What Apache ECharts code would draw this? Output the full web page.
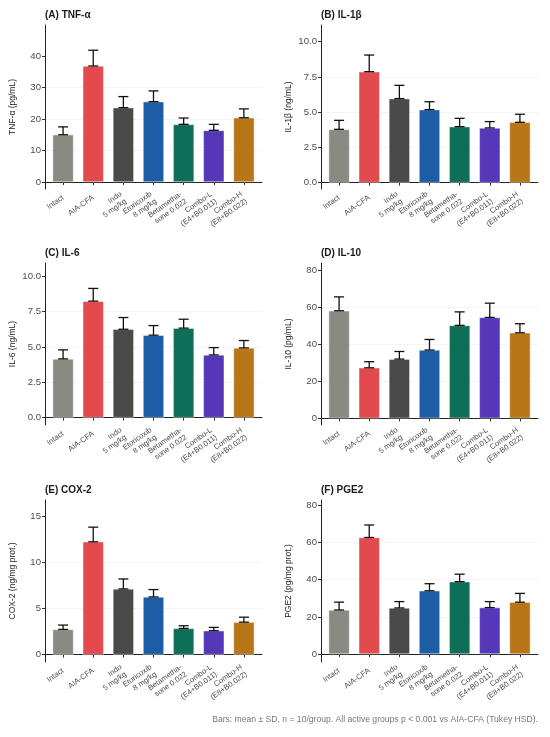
<!DOCTYPE html>
<html lang="en" style="height: 100%">
<head>
  <meta charset="utf-8">
</head>
<body style="height: 100%; margin: 0; background: #fff">
  <div id="container" style="width: 550px; height: 737px"></div>
  <script type="text/javascript" src="https://fastly.jsdelivr.net/npm/echarts@6/dist/echarts.min.js"></script>
  <script type="text/javascript">
    // groups and colours
    var groups = ['Intact', 'AIA-CFA', 'Indo\n5 mg/kg', 'Etoricoxib\n8 mg/kg', 'Betametha-\nsone 0.022', 'Combo-L\n(E4+B0.011)', 'Combo-H\n(E8+B0.022)'];
    var groupColors = ['#8a8a82', '#e34a4e', '#4a4a4a', '#1c5da6', '#0f6e57', '#5538b8', '#b87619'];

    // means and SDs
    var tnfMean = [15.0, 36.8, 23.6, 25.5, 18.3, 16.4, 20.4];
    var tnfSd = [2.5, 5.0, 3.5, 3.4, 2.0, 1.9, 2.8];
    var il1bMean = [3.78, 7.87, 5.96, 5.18, 3.97, 3.88, 4.28];
    var il1bSd = [0.64, 1.18, 0.94, 0.56, 0.59, 0.45, 0.57];
    var il6Mean = [4.16, 8.25, 6.26, 5.84, 6.34, 4.44, 4.94];
    var il6Sd = [0.64, 0.90, 0.83, 0.68, 0.63, 0.52, 0.52];
    var il10Mean = [58.1, 27.3, 32.0, 36.9, 50.2, 54.5, 46.2];
    var il10Sd = [7.5, 3.3, 4.1, 5.7, 7.3, 7.7, 4.9];
    var cox2Mean = [2.74, 12.26, 7.14, 6.27, 2.85, 2.60, 3.53];
    var cox2Sd = [0.47, 1.59, 1.08, 0.80, 0.29, 0.36, 0.54];
    var pge2Mean = [23.7, 62.6, 24.8, 34.0, 38.9, 25.0, 27.9];
    var pge2Sd = [4.2, 6.7, 3.4, 3.8, 4.0, 3.2, 4.7];

    // y tick labels
    var ticks40 = [0, 10, 20, 30, 40];
    var ticks10 = [0, 2.5, 5, 7.5, 10];
    var ticks80 = [0, 20, 40, 60, 80];
    var ticks15 = [0, 5, 10, 15];

    var panels = [
      { title: '(A) TNF-α', yName: 'TNF-α (pg/mL)', mean: tnfMean, sd: tnfSd, ticks: ticks40, dec: 0, yMin: -2.2, yMax: 49.8, left: 45, top: 25, height: 164 },
      { title: '(B) IL-1β', yName: 'IL-1β (ng/mL)', mean: il1bMean, sd: il1bSd, ticks: ticks10, dec: 1, yMin: -0.45, yMax: 11.18, left: 321, top: 25, height: 164 },
      { title: '(C) IL-6', yName: 'IL-6 (ng/mL)', mean: il6Mean, sd: il6Sd, ticks: ticks10, dec: 1, yMin: -0.52, yMax: 10.95, left: 45, top: 263, height: 162 },
      { title: '(D) IL-10', yName: 'IL-10 (pg/mL)', mean: il10Mean, sd: il10Sd, ticks: ticks80, dec: 0, yMin: -3.6, yMax: 83.9, left: 321, top: 263, height: 162 },
      { title: '(E) COX-2', yName: 'COX-2 (ng/mg prot.)', mean: cox2Mean, sd: cox2Sd, ticks: ticks15, dec: 0, yMin: -0.8, yMax: 16.8, left: 45, top: 500, height: 162 },
      { title: '(F) PGE2', yName: 'PGE2 (pg/mg prot.)', mean: pge2Mean, sd: pge2Sd, ticks: ticks80, dec: 0, yMin: -4.2, yMax: 82.7, left: 321, top: 500, height: 162 }
    ];

    var font = 'Liberation Sans, Arial, sans-serif';
    var xPositions = groups.map(function (g, i) { return i + 1; });

    var dom = document.getElementById('container');
    var myChart = echarts.init(dom, null, { renderer: 'canvas' });

    var option = {
      backgroundColor: '#fff',
      animation: false,
      title: [],
      grid: [],
      xAxis: [],
      yAxis: [],
      series: [],
      graphic: [{
        type: 'text',
        right: 12,
        top: 715,
        style: {
          text: 'Bars: mean ± SD, n = 10/group. All active groups p < 0.001 vs AIA-CFA (Tukey HSD).',
          fontSize: 8.6,
          fontFamily: font,
          fill: '#777'
        }
      }]
    };

    panels.forEach(function (p, k) {
      option.title.push({
        text: p.title,
        left: p.left - 5,
        top: p.top - 20,
        textStyle: { fontSize: 10, fontWeight: 'bold', fontFamily: font, color: '#1a1a1a' }
      });
      option.grid.push({ left: p.left, top: p.top, width: 217, height: p.height });
      option.xAxis.push({
        type: 'value',
        gridIndex: k,
        min: 0.4,
        max: 7.6,
        axisLine: { lineStyle: { color: '#222', width: 1 } },
        axisTick: { customValues: xPositions, length: 3, lineStyle: { color: '#333' } },
        splitLine: { show: false },
        axisLabel: {
          customValues: xPositions,
          rotate: 35,
          fontSize: 7.6,
          lineHeight: 8.6,
          fontFamily: font,
          color: '#4d4d4d',
          margin: 8,
          formatter: function (v) { return groups[Math.round(v) - 1] || ''; }
        }
      });
      option.yAxis.push({
        type: 'value',
        gridIndex: k,
        min: p.yMin,
        max: p.yMax,
        name: p.yName,
        nameLocation: 'middle',
        nameGap: 28,
        nameTextStyle: { fontSize: 8.5, fontFamily: font, color: '#222' },
        axisLine: { show: true, lineStyle: { color: '#222', width: 1 } },
        axisTick: { show: true, customValues: p.ticks, length: 3, lineStyle: { color: '#333' } },
        axisLabel: {
          customValues: p.ticks,
          fontSize: 9.6,
          fontFamily: font,
          color: '#4d4d4d',
          margin: 4,
          formatter: function (v) { return v.toFixed(p.dec); }
        },
        splitLine: { show: true, showMinLine: true, showMaxLine: false, lineStyle: { color: '#efefef', width: 0.7 } }
      });
      option.series.push({
        type: 'bar',
        xAxisIndex: k,
        yAxisIndex: k,
        barWidth: 21,
        data: p.mean.map(function (v, i) {
          return {
            value: [i + 1, v],
            itemStyle: { color: groupColors[i], borderColor: 'rgba(255,255,255,0.7)', borderWidth: 0.6 }
          };
        })
      });
      option.series.push({
        type: 'custom',
        xAxisIndex: k,
        yAxisIndex: k,
        z: 5,
        data: p.mean.map(function (v, i) { return [i + 1, v, v + p.sd[i]]; }),
        renderItem: function (params, api) {
          var x = api.value(0);
          var a = api.coord([x, api.value(1)]);
          var b = api.coord([x, api.value(2)]);
          var w = 5;
          var st = { stroke: '#111', lineWidth: 1.3 };
          return {
            type: 'group',
            children: [
              { type: 'line', shape: { x1: a[0], y1: a[1], x2: b[0], y2: b[1] }, style: st },
              { type: 'line', shape: { x1: b[0] - w, y1: b[1], x2: b[0] + w, y2: b[1] }, style: st },
              { type: 'line', shape: { x1: a[0] - w, y1: a[1], x2: a[0] + w, y2: a[1] }, style: st }
            ]
          };
        }
      });
    });

    myChart.setOption(option);
    window.addEventListener('resize', myChart.resize);
  </script>
</body>
</html>
